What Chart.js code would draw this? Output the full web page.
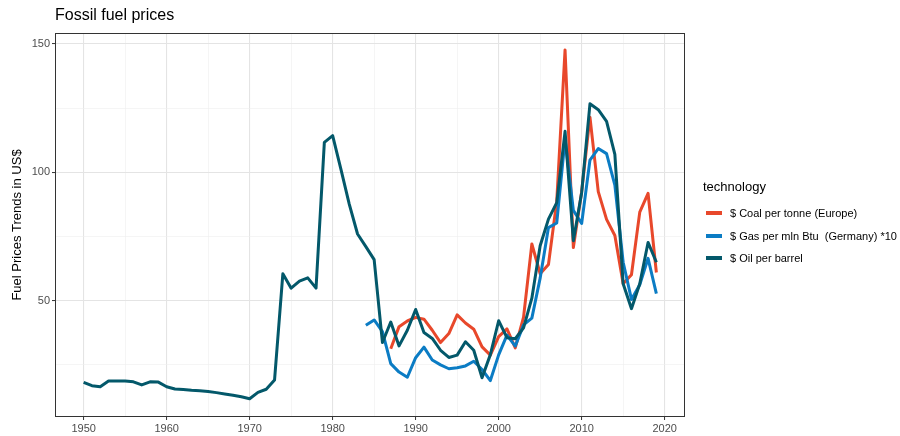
<!DOCTYPE html>
<html>
<head>
<meta charset="utf-8">
<script src="https://cdn.jsdelivr.net/npm/chart.js@4"></script>
<style>
  body { margin: 0; background: #fff; }
  #wrap { position: relative; width: 900px; height: 436px; font-family: "Liberation Sans", Arial, sans-serif; }
  #title { position: absolute; left: 55px; top: 6px; font-size: 16px; color: #000; }
  #legend { position: absolute; left: 703px; top: 179px; color: #000; }
  #legend .lt { font-size: 13px; margin-bottom: 8px; }
  #legend .it { font-size: 11px; height: 22.5px; line-height: 22.5px; white-space: pre; }
  #legend .key { display: inline-block; width: 16px; height: 4px; vertical-align: middle; margin: 0 8px 2px 3px; }
</style>
</head>
<body>
<div id="wrap">
  <canvas id="chart" width="900" height="436"></canvas>
  <div id="title">Fossil fuel prices</div>
  <div id="legend"></div>
</div>
<script>
var years = [1950, 1951, 1952, 1953, 1954, 1955, 1956, 1957, 1958, 1959,
             1960, 1961, 1962, 1963, 1964, 1965, 1966, 1967, 1968, 1969,
             1970, 1971, 1972, 1973, 1974, 1975, 1976, 1977, 1978, 1979,
             1980, 1981, 1982, 1983, 1984, 1985, 1986, 1987, 1988, 1989,
             1990, 1991, 1992, 1993, 1994, 1995, 1996, 1997, 1998, 1999,
             2000, 2001, 2002, 2003, 2004, 2005, 2006, 2007, 2008, 2009,
             2010, 2011, 2012, 2013, 2014, 2015, 2016, 2017, 2018, 2019];

var oil = [18.2, 16.9, 16.5, 18.7, 18.7, 18.7, 18.4, 17.2, 18.4, 18.3,
           16.5, 15.6, 15.4, 15.1, 14.9, 14.6, 14.2, 13.7, 13.2, 12.6,
           11.8, 14.3, 15.5, 19.1, 60.5, 54.9, 57.6, 58.9, 54.9, 111.7,
           114.3, 101.2, 87.6, 76.0, 71.1, 66.0, 33.7, 41.7, 32.4, 38.5,
           46.6, 37.6, 35.3, 30.7, 27.9, 28.8, 34.0, 30.7, 20.0, 29.0,
           42.2, 35.6, 35.2, 39.4, 51.0, 71.4, 81.8, 88.2, 116.0, 73.4,
           92.1, 126.7, 124.4, 119.9, 107.0, 56.6, 46.9, 56.6, 72.7, 65.0];

var gasStart = 1984;
var gas = [40.4, 42.5, 38.0, 25.5, 22.2, 20.2, 27.8, 31.9, 26.9, 25.0,
           23.5, 23.9, 24.6, 26.4, 23.2, 18.9, 28.9, 36.6, 32.3, 40.6,
           43.2, 58.8, 78.5, 80.3, 113.0, 85.2, 80.1, 104.8, 109.3, 107.3,
           95.0, 65.0, 50.5, 56.2, 66.5, 52.8];

var coalStart = 1987;
var coal = [31.3, 39.9, 42.1, 43.5, 42.8, 38.5, 33.7, 37.2, 44.5, 41.3,
            38.9, 32.0, 28.8, 36.0, 39.0, 31.6, 43.6, 72.1, 60.5, 64.1,
            88.8, 147.7, 70.7, 92.5, 121.5, 92.5, 81.7, 75.4, 56.6, 60.1,
            84.5, 91.8, 61.0];

var names = ["$ Coal per tonne (Europe)", "$ Gas per mln Btu  (Germany) *10", "$ Oil per barrel"];
var colors = ["#e8482b", "#0b7cc4", "#03586a"];

var xTicks = [1950, 1955, 1960, 1965, 1970, 1975, 1980, 1985, 1990, 1995, 2000, 2005, 2010, 2015, 2020];
var yTicks = [25, 50, 75, 100, 125, 150];

function toPoints(start, vals) {
  return vals.map(function(v, i) { return { x: years[years.indexOf(start) + i], y: v }; });
}

function line(label, color, pts, order) {
  return {
    label: label,
    data: pts,
    borderColor: color,
    backgroundColor: color,
    borderWidth: 3,
    pointRadius: 0,
    tension: 0,
    fill: false,
    order: order,
    borderJoinStyle: "round"
  };
}

var major = function(v, step) { return v % step === 0; };

var panelBorder = {
  id: "panelBorder",
  afterDatasetsDraw: function(chart) {
    var a = chart.chartArea, c = chart.ctx;
    c.save();
    c.strokeStyle = "#333333";
    c.lineWidth = 1;
    c.strokeRect(Math.round(a.left) + 0.5, Math.round(a.top) + 0.5,
                 Math.round(a.right - a.left) - 1, Math.round(a.bottom - a.top) - 1);
    c.restore();
  }
};

var ctx = document.getElementById("chart");

var chart = new Chart(ctx, {
  type: "line",
  data: {
    datasets: [
      line(names[0], colors[0], toPoints(coalStart, coal), 3),
      line(names[1], colors[1], toPoints(gasStart, gas), 2),
      line(names[2], colors[2], toPoints(1950, oil), 1)
    ]
  },
  options: {
    responsive: false,
    animation: false,
    layout: { padding: { top: 33, right: 215, left: 0, bottom: 0 } },
    plugins: {
      legend: { display: false },
      tooltip: { enabled: false }
    },
    scales: {
      x: {
        type: "linear",
        min: 1946.55,
        max: 2022.45,
        afterBuildTicks: function(s) { s.ticks = xTicks.map(function(v) { return { value: v }; }); },
        afterFit: function(s) { s.height = 19; },
        border: { display: false },
        grid: {
          drawTicks: true,
          tickLength: 3,
          color: function(c) { return major(c.tick.value, 10) ? "#e4e4e4" : "#efefef"; },
          lineWidth: function(c) { return major(c.tick.value, 10) ? 1.1 : 0.6; },
          tickColor: function(c) { return major(c.tick.value, 10) ? "#333333" : "rgba(0,0,0,0)"; },
          tickWidth: 1
        },
        ticks: {
          padding: 2,
          maxRotation: 0,
          autoSkip: false,
          color: "#4d4d4d",
          font: { family: "Liberation Sans", size: 11 },
          callback: function(v) { return major(v, 10) ? String(v) : ""; }
        }
      },
      y: {
        min: 4.7,
        max: 154.3,
        afterBuildTicks: function(s) { s.ticks = yTicks.map(function(v) { return { value: v }; }); },
        afterFit: function(s) { s.width = 55; },
        border: { display: false },
        title: {
          display: true,
          text: "Fuel Prices Trends in US$",
          color: "#000",
          font: { family: "Liberation Sans", size: 13 },
          padding: { top: 10, bottom: 0 }
        },
        grid: {
          drawTicks: true,
          tickLength: 3,
          color: function(c) { return major(c.tick.value, 50) ? "#e4e4e4" : "#efefef"; },
          lineWidth: function(c) { return major(c.tick.value, 50) ? 1.1 : 0.6; },
          tickColor: function(c) { return major(c.tick.value, 50) ? "#333333" : "rgba(0,0,0,0)"; },
          tickWidth: 1
        },
        ticks: {
          padding: 2,
          autoSkip: false,
          color: "#4d4d4d",
          font: { family: "Liberation Sans", size: 11 },
          callback: function(v) { return major(v, 50) ? String(v) : ""; }
        }
      }
    }
  },
  plugins: [panelBorder]
});

// legend, ggplot style
var lg = document.getElementById("legend");
var html = '<div class="lt">technology</div>';
names.forEach(function(n, i) {
  html += '<div class="it"><span class="key" style="background:' + colors[i] + '"></span>' + n + '</div>';
});
lg.innerHTML = html;
</script>
</body>
</html>
